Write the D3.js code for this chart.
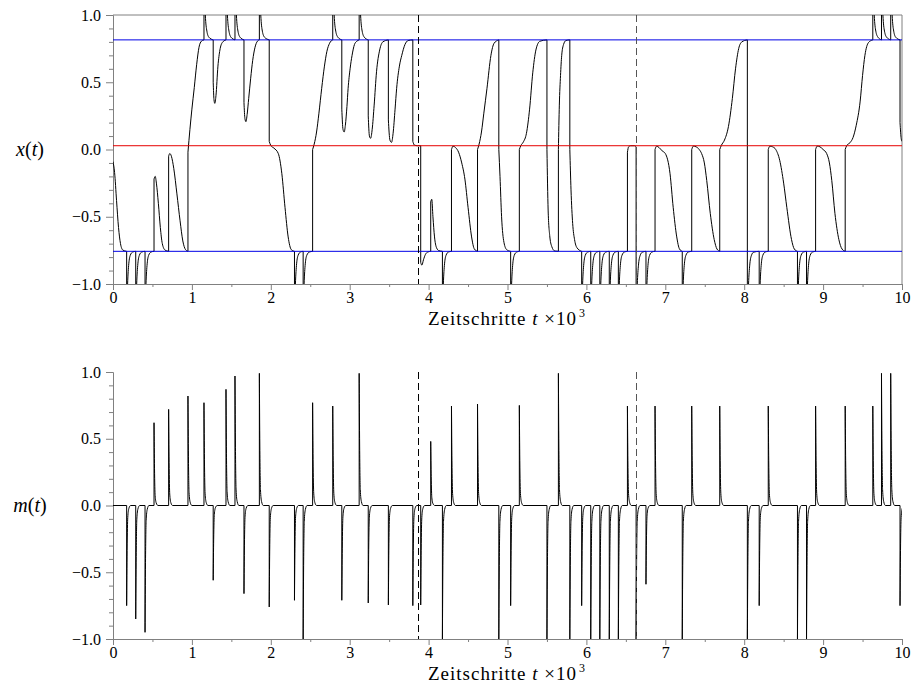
<!DOCTYPE html>
<html>
<head>
<meta charset="utf-8">
<script src="https://cdn.jsdelivr.net/npm/d3@7"></script>
<style>
body { margin: 0; background: #fff; }
svg { display: block; }
text { font-family: "Liberation Serif", "Times New Roman", serif; fill: #000; }
</style>
</head>
<body>
<svg id="chart" width="912" height="684"></svg>
<script>

// x(t) trajectory, t in units of 10^3 steps.
// two points in a row with the same t = a jump (vertical segment)
var xPts = [
	[0,-0.09],[0.02,-0.17],[0.045,-0.38],[0.07,-0.58],[0.095,-0.70],[0.125,-0.748],[0.173,-0.757],
	[0.173,-1.25],[0.185,-1.0],[0.2,-0.85],[0.22,-0.785],[0.25,-0.762],[0.288,-0.757],
	[0.288,-1.25],[0.3,-1.0],[0.315,-0.85],[0.335,-0.785],[0.365,-0.762],[0.406,-0.757],
	[0.406,-1.25],[0.418,-1.0],[0.433,-0.85],[0.453,-0.785],[0.483,-0.762],[0.52,-0.757],
	[0.52,-0.22],[0.535,-0.2],[0.55,-0.25],[0.575,-0.4],[0.6,-0.58],[0.625,-0.7],[0.66,-0.748],[0.705,-0.757],
	[0.705,-0.05],[0.72,-0.03],[0.74,-0.05],[0.77,-0.14],[0.81,-0.33],[0.85,-0.53],[0.885,-0.68],[0.92,-0.745],[0.95,-0.757],
	[0.95,-0.02],[0.975,0.15],[1.0,0.3],[1.03,0.46],[1.06,0.63],[1.09,0.76],[1.12,0.805],[1.153,0.815],
	[1.153,1.3],[1.17,1.0],[1.19,0.88],[1.215,0.835],[1.27,0.815],
	[1.27,0.5],[1.28,0.37],[1.29,0.343],[1.305,0.4],[1.33,0.62],[1.355,0.74],[1.385,0.795],[1.432,0.815],
	[1.432,1.3],[1.45,1.0],[1.47,0.88],[1.495,0.835],[1.546,0.815],
	[1.546,1.3],[1.564,1.0],[1.584,0.88],[1.61,0.835],[1.66,0.815],
	[1.66,0.35],[1.672,0.23],[1.685,0.207],[1.70,0.26],[1.72,0.38],[1.745,0.53],[1.77,0.66],[1.80,0.76],[1.83,0.805],[1.855,0.815],
	[1.855,1.3],[1.873,1.0],[1.893,0.88],[1.92,0.835],[1.98,0.815],
	[1.98,0.06],[2.0,0.03],[2.04,0.01],[2.095,-0.03],[2.14,-0.18],[2.18,-0.43],[2.22,-0.65],[2.26,-0.745],[2.30,-0.757],
	[2.30,-1.25],[2.312,-1.0],[2.327,-0.85],[2.347,-0.785],[2.377,-0.762],[2.41,-0.757],
	[2.41,-1.25],[2.422,-1.0],[2.437,-0.85],[2.457,-0.785],[2.49,-0.762],[2.53,-0.757],
	[2.53,0.0],[2.55,0.04],[2.58,0.13],[2.61,0.27],[2.645,0.455],[2.68,0.62],[2.71,0.727],[2.745,0.79],[2.785,0.815],
	[2.785,1.3],[2.803,1.0],[2.823,0.88],[2.85,0.835],[2.90,0.815],
	[2.90,0.3],[2.915,0.15],[2.93,0.13],[2.945,0.18],[2.965,0.32],[2.98,0.455],[3.005,0.6],[3.03,0.7],[3.06,0.78],[3.09,0.805],[3.12,0.815],
	[3.12,1.3],[3.138,1.0],[3.158,0.88],[3.185,0.835],[3.235,0.815],
	[3.235,0.25],[3.25,0.1],[3.265,0.083],[3.285,0.15],[3.31,0.33],[3.34,0.578],[3.38,0.74],[3.42,0.8],[3.49,0.815],
	[3.49,0.22],[3.51,0.07],[3.53,0.053],[3.55,0.12],[3.575,0.3],[3.595,0.455],[3.63,0.62],[3.66,0.70],[3.70,0.78],[3.74,0.81],[3.80,0.815],
	[3.80,0.06],[3.82,0.033],[3.86,0.028],[3.90,0.028],
	[3.90,-0.84],[3.915,-0.86],[3.935,-0.82],[3.96,-0.78],[3.99,-0.762],[4.027,-0.757],
	[4.027,-0.39],[4.04,-0.37],[4.055,-0.5],[4.075,-0.65],[4.10,-0.73],[4.13,-0.752],[4.175,-0.757],
	[4.175,-1.25],[4.187,-1.0],[4.202,-0.85],[4.222,-0.785],[4.252,-0.762],[4.29,-0.757],
	[4.29,0.0],[4.31,0.025],[4.34,0.015],[4.38,-0.02],[4.42,-0.1],[4.46,-0.22],[4.50,-0.43],[4.545,-0.65],[4.58,-0.74],[4.62,-0.757],
	[4.62,0.0],[4.64,0.04],[4.67,0.13],[4.70,0.27],[4.74,0.455],[4.79,0.70],[4.83,0.79],[4.89,0.815],
	[4.89,0.0],[4.905,-0.2],[4.925,-0.5],[4.955,-0.69],[4.99,-0.745],[5.04,-0.757],
	[5.04,-1.25],[5.052,-1.0],[5.067,-0.85],[5.087,-0.785],[5.117,-0.762],[5.15,-0.757],
	[5.15,0.0],[5.17,0.03],[5.20,0.055],[5.24,0.12],[5.28,0.3],[5.32,0.57],[5.36,0.74],[5.41,0.805],[5.50,0.815],
	[5.50,0.0],[5.515,-0.45],[5.535,-0.64],[5.56,-0.72],[5.60,-0.755],[5.645,-0.757],
	[5.645,0.0],[5.657,0.33],[5.672,0.55],[5.687,0.70],[5.71,0.78],[5.74,0.81],[5.79,0.815],
	[5.79,0.0],[5.805,-0.3],[5.826,-0.55],[5.85,-0.67],[5.88,-0.73],[5.94,-0.757],
	[5.94,-1.25],[5.952,-1.0],[5.967,-0.85],[5.987,-0.785],[6.017,-0.762],[6.055,-0.757],
	[6.055,-1.25],[6.067,-1.0],[6.082,-0.85],[6.102,-0.785],[6.132,-0.762],[6.17,-0.757],
	[6.17,-1.25],[6.182,-1.0],[6.197,-0.85],[6.217,-0.785],[6.247,-0.762],[6.29,-0.757],
	[6.29,-1.25],[6.302,-1.0],[6.317,-0.85],[6.337,-0.785],[6.367,-0.762],[6.405,-0.757],
	[6.405,-1.25],[6.417,-1.0],[6.432,-0.85],[6.452,-0.785],[6.482,-0.762],[6.52,-0.757],
	[6.52,-0.02],[6.535,0.02],[6.56,0.028],[6.61,0.028],[6.63,0.02],
	[6.63,-1.3],[6.645,-1.0],[6.66,-0.86],[6.68,-0.79],[6.71,-0.763],[6.755,-0.757],
	[6.755,-1.2],[6.767,-1.0],[6.782,-0.85],[6.802,-0.785],[6.832,-0.762],[6.87,-0.757],
	[6.87,0.0],[6.89,0.025],[6.92,0.015],[6.96,-0.01],[7.0,-0.03],[7.06,-0.18],[7.10,-0.43],[7.145,-0.65],[7.18,-0.74],[7.215,-0.757],
	[7.215,-1.25],[7.227,-1.0],[7.242,-0.85],[7.262,-0.785],[7.292,-0.762],[7.335,-0.757],
	[7.335,0.0],[7.355,0.025],[7.39,0.02],[7.43,0.0],[7.46,-0.03],[7.495,-0.1],[7.525,-0.23],[7.57,-0.475],[7.62,-0.67],[7.655,-0.74],[7.69,-0.757],
	[7.69,0.0],[7.71,0.03],[7.75,0.07],[7.80,0.17],[7.85,0.38],[7.89,0.6],[7.93,0.75],[7.97,0.8],[8.04,0.815],
	[8.04,-1.3],[8.055,-1.0],[8.07,-0.86],[8.09,-0.79],[8.12,-0.763],[8.19,-0.757],
	[8.19,-1.25],[8.202,-1.0],[8.217,-0.85],[8.237,-0.785],[8.267,-0.762],[8.305,-0.757],
	[8.305,0.0],[8.325,0.025],[8.36,0.02],[8.40,0.0],[8.45,-0.08],[8.50,-0.25],[8.54,-0.43],[8.60,-0.67],[8.635,-0.74],[8.675,-0.757],
	[8.675,-1.25],[8.687,-1.0],[8.702,-0.85],[8.722,-0.785],[8.752,-0.762],[8.79,-0.757],
	[8.79,-1.25],[8.802,-1.0],[8.817,-0.85],[8.837,-0.785],[8.867,-0.762],[8.905,-0.757],
	[8.905,0.0],[8.925,0.025],[8.96,0.02],[9.0,0.0],[9.045,-0.03],[9.08,-0.1],[9.11,-0.23],[9.15,-0.475],[9.20,-0.67],[9.24,-0.74],[9.28,-0.757],
	[9.28,0.0],[9.30,0.03],[9.34,0.05],[9.38,0.09],[9.42,0.18],[9.47,0.36],[9.50,0.55],[9.53,0.70],[9.575,0.795],[9.63,0.815],
	[9.63,1.3],[9.648,1.0],[9.668,0.88],[9.695,0.835],[9.74,0.815],
	[9.74,1.3],[9.758,1.0],[9.778,0.88],[9.805,0.835],[9.857,0.815],
	[9.857,1.3],[9.875,1.0],[9.895,0.88],[9.92,0.835],[9.975,0.815],
	[9.975,0.2],[9.99,0.08],[10.0,0.06]
];

// fixed points of x (horizontal lines)
var levels = [0.815, 0.028, -0.757];
var levelColors = ["#0000e6", "#e60000", "#0000e6"];

// m(t): spike times and heights
var spikeT = [0.173,0.288,0.406,0.52,0.705,0.95,1.153,1.27,1.432,1.546,1.66,1.855,1.98,2.30,2.41,2.53,2.785,2.90,3.12,3.235,3.49,3.80,3.90,
	4.027,4.175,4.29,4.62,4.89,5.04,5.15,5.50,5.645,5.79,5.94,6.055,6.17,6.29,6.405,6.52,6.63,6.755,6.87,7.215,7.335,7.69,
	8.04,8.19,8.305,8.675,8.79,8.905,9.28,9.63,9.74,9.857,9.975];
var spikeA = [-0.75,-0.85,-0.95,0.62,0.72,0.82,0.77,-0.56,0.87,0.97,-0.66,0.99,-0.76,-0.71,-1.0,0.77,0.745,-0.71,0.99,-0.73,-0.745,-0.75,-0.745,
	0.48,-1.0,0.745,0.76,-1.0,-0.75,0.75,-1.0,0.99,-1.0,-0.75,-1.0,-1.0,-1.0,-1.0,0.745,-1.0,-0.59,0.745,-1.0,0.745,0.745,
	-1.0,-0.75,0.745,-1.0,-1.0,0.745,0.745,0.745,0.99,0.99,-0.75];

// dashed markers
var dashT = [3.878, 6.629];

var xTicks = [0,1,2,3,4,5,6,7,8,9,10];
var xMinor = [0.5,1.5,2.5,3.5,4.5,5.5,6.5,7.5,8.5,9.5];
var yTicks = [-1, -0.5, 0, 0.5, 1];
var yMinor = [-0.9,-0.8,-0.7,-0.6,-0.4,-0.3,-0.2,-0.1,0.1,0.2,0.3,0.4,0.6,0.7,0.8,0.9];

// shape of one spike: [dt, fraction of height]
var spikeShape = [[0,1],[0.006,0.45],[0.014,0.12],[0.028,0.03],[0.05,0]];

var svg = d3.select("#chart");

var x = d3.scaleLinear([0, 10], [113, 902]);

var panels = [
	{ id: "top", top: 15, bottom: 284, label: "x", box: true },
	{ id: "bot", top: 372, bottom: 639, label: "m", box: false },
];

// split a point list into runs at jumps, draw each smooth, join with straight segments
function jumpPath(pts, y)	{
	var line = d3.line(d => x(d[0]), d => y(d[1])).curve(d3.curveMonotoneX);
	var runs = [[pts[0]]];
	for(var i = 1; i < pts.length; i++)	{
		if(pts[i][0] === pts[i-1][0])
			runs.push([pts[i]]);
		else
			runs[runs.length-1].push(pts[i]);
	}
	return runs.map((r, i) => {
		var s = line(r);
		return i ? s.replace(/^M/, "L") : s;
	}).join("");
}

// m(t) point list from spikes
var mPts = [[0, 0]];
spikeT.forEach((t, i) => {
	mPts.push([t, 0]);
	spikeShape.forEach(s => mPts.push([t + s[0], spikeA[i] * s[1]]));
});

panels.forEach(p => {

	var y = d3.scaleLinear([-1, 1], [p.bottom, p.top]);
	var g = svg.append("g");

	g.append("clipPath").attr("id", "clip-" + p.id)
		.append("rect")
		.attr("x", x(0)).attr("y", p.top)
		.attr("width", x(10) - x(0)).attr("height", p.bottom - p.top);

	// axes
	g.append("g").attr("transform", `translate(${x(0)},0)`)
		.call(d3.axisLeft(y).tickValues(yTicks).tickSize(7).tickSizeOuter(0).tickPadding(5).tickFormat(d3.format(".1f")));
	g.append("g").attr("transform", `translate(${x(0)},0)`)
		.call(d3.axisLeft(y).tickValues(yMinor).tickSize(4).tickSizeOuter(0).tickFormat(""));
	g.append("g").attr("transform", `translate(0,${p.bottom})`)
		.call(d3.axisBottom(x).tickValues(xTicks).tickSize(6).tickSizeOuter(0).tickPadding(2).tickFormat(d3.format("d")));
	g.append("g").attr("transform", `translate(0,${p.bottom})`)
		.call(d3.axisBottom(x).tickValues(xMinor).tickSize(3).tickSizeOuter(0).tickFormat(""));

	g.selectAll(".domain, .tick line").attr("stroke", "#808080");
	g.selectAll(".tick text").attr("font-size", 16);

	if(p.box)	{
		g.append("path")
			.attr("fill", "none").attr("stroke", "#808080")
			.attr("d", `M${x(0)},${p.top}H${x(10)}V${p.bottom}`);
	}

	var plot = g.append("g").attr("clip-path", `url(#clip-${p.id})`);

	if(p.id === "top")	{
		plot.append("path")
			.attr("fill", "none").attr("stroke", "#000").attr("stroke-width", 1)
			.attr("d", jumpPath(xPts, y));
		plot.selectAll(".level")
			.data(levels)
			.join("line")
			.attr("class", "level")
			.attr("x1", x(0)).attr("x2", x(10))
			.attr("y1", d => y(d)).attr("y2", d => y(d))
			.attr("stroke", (d, i) => levelColors[i]).attr("stroke-width", 1);
	} else {
		plot.append("path")
			.attr("fill", "none").attr("stroke", "#000").attr("stroke-width", 1)
			.attr("d", jumpPath(mPts, y));
	}

	plot.selectAll(".dash")
		.data(dashT)
		.join("line")
		.attr("class", "dash")
		.attr("x1", d => x(d)).attr("x2", d => x(d))
		.attr("y1", p.top).attr("y2", p.bottom)
		.attr("stroke", (d, i) => i ? "#555" : "#000")
		.attr("stroke-width", 1)
		.attr("shape-rendering", "crispEdges")
		.attr("stroke-dasharray", "7,4");

	// labels
	var yl = g.append("text")
		.attr("x", 30).attr("y", (p.top + p.bottom) / 2 + 6)
		.attr("text-anchor", "middle").attr("font-size", 20);
	yl.append("tspan").attr("font-style", "italic").text(p.label);
	yl.append("tspan").text("(");
	yl.append("tspan").attr("font-style", "italic").text("t");
	yl.append("tspan").text(")");

	var xl = g.append("text")
		.attr("x", 507).attr("y", p.bottom + 41)
		.attr("text-anchor", "middle").attr("font-size", 19)
		.attr("letter-spacing", 1);
	xl.append("tspan").text("Zeitschritte ");
	xl.append("tspan").attr("font-style", "italic").text("t");
	xl.append("tspan").text(" \u00d710");
	xl.append("tspan").attr("font-size", 12).attr("dx", 2).attr("dy", -8).text("3");

});

</script>
</body>
</html>
